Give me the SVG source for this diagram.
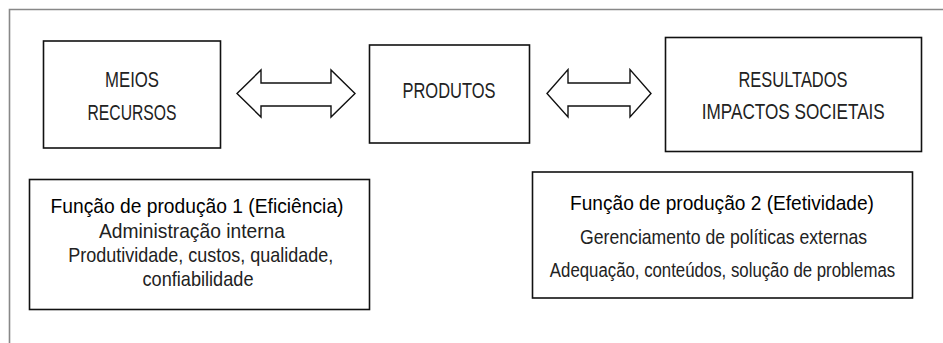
<svg xmlns="http://www.w3.org/2000/svg" width="943" height="343" viewBox="0 0 943 343">
<style>
.box{fill:#fff;stroke:#111;stroke-width:1.6}
.arrow{fill:#fff;stroke:#111;stroke-width:1.4;stroke-linejoin:miter}
.t{font-family:"Liberation Sans",Arial,sans-serif;text-anchor:middle;fill:#222}
.big{font-size:22px}
.sm{font-size:21px}
.ttl{fill:#000}
</style>
<rect width="943" height="343" fill="#fff"/>
<path d="M9.5,343 V9.5 H943" fill="none" stroke="#888" stroke-width="1.6"/>
<g id="connectors">
<polygon class="arrow" points="237,93.5 261,70 261,83 331,83 331,70 355,93.5 331,117 331,106 261,106 261,117"/>
<polygon class="arrow" points="547,93.5 568,69.5 568,83 630,83 630,69.5 651,93.5 630,117 630,106 568,106 568,117"/>
</g>
<g id="meios">
<rect class="box" x="43.5" y="41" width="177" height="107"/>
<text class="t big" x="132" y="87.3" textLength="54" lengthAdjust="spacingAndGlyphs">MEIOS</text>
<text class="t big" x="132" y="120" textLength="89" lengthAdjust="spacingAndGlyphs">RECURSOS</text>
</g>
<g id="produtos">
<rect class="box" x="369.5" y="45" width="160" height="98"/>
<text class="t big" x="449" y="98.3" textLength="93" lengthAdjust="spacingAndGlyphs">PRODUTOS</text>
</g>
<g id="resultados">
<rect class="box" x="665.5" y="37.5" width="256" height="114"/>
<text class="t big" x="793" y="87.3" textLength="109" lengthAdjust="spacingAndGlyphs">RESULTADOS</text>
<text class="t big" x="793.3" y="119" textLength="183" lengthAdjust="spacingAndGlyphs">IMPACTOS SOCIETAIS</text>
</g>
<g id="funcao1">
<rect class="box" x="29.5" y="179.5" width="340" height="130"/>
<text class="t sm ttl" x="197" y="213" textLength="293" lengthAdjust="spacingAndGlyphs">Função de produção 1 (Eficiência)</text>
<text class="t sm" x="192" y="238" textLength="186" lengthAdjust="spacingAndGlyphs">Administração interna</text>
<text class="t sm" x="200.8" y="262" textLength="265" lengthAdjust="spacingAndGlyphs">Produtividade, custos, qualidade,</text>
<text class="t sm" x="198" y="286" textLength="111" lengthAdjust="spacingAndGlyphs">confiabilidade</text>
</g>
<g id="funcao2">
<rect class="box" x="532.5" y="172" width="380" height="126"/>
<text class="t sm ttl" x="722" y="210" textLength="304" lengthAdjust="spacingAndGlyphs">Função de produção 2 (Efetividade)</text>
<text class="t sm" x="723.6" y="244" textLength="287" lengthAdjust="spacingAndGlyphs">Gerenciamento de políticas externas</text>
<text class="t sm" transform="translate(722.5,277) scale(0.8,1)" x="0" y="0">Adequação, conteúdos, solução de problemas</text>
</g>
</svg>
